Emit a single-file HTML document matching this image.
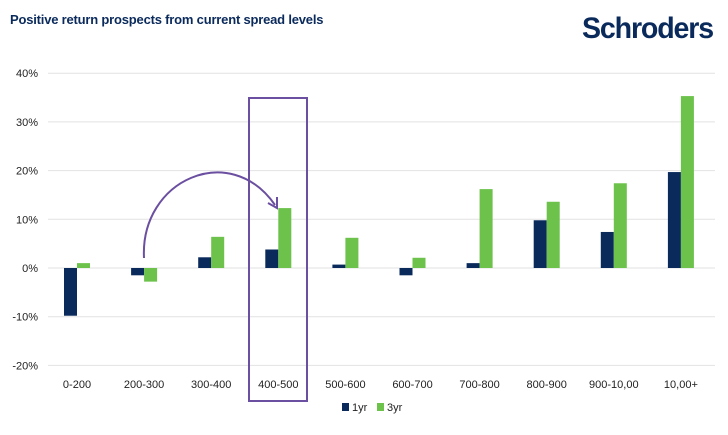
<!DOCTYPE html>
<html><head><meta charset="utf-8"><style>
body{margin:0;background:#fff;width:728px;height:430px;overflow:hidden;font-family:"Liberation Sans",sans-serif}
</style></head><body>
<svg width="728" height="430" id="svg" font-family="Liberation Sans, sans-serif">
<text x="10" y="24" font-size="13" font-weight="bold" fill="#0a2a5c" letter-spacing="-0.2">Positive return prospects from current spread levels</text>
<text x="582" y="38" font-size="30" font-weight="bold" fill="#0a2a5c" letter-spacing="-1.2" textLength="131" lengthAdjust="spacingAndGlyphs">Schroders</text>
<g id="grid"></g><g id="bars"></g>
<rect x="249" y="98" width="58" height="303" fill="none" stroke="#6b4fa0" stroke-width="2"/>
<path d="M144,258 C140,180 230,140 275,205" fill="none" stroke="#6b4fa0" stroke-width="2"/>
<path d="M268,203 L277,208 L277,197" fill="none" stroke="#6b4fa0" stroke-width="2"/>
<rect x="342" y="403" width="7" height="8" fill="#0a2a5c"/>
<text x="352" y="411" font-size="11" fill="#222">1yr</text>
<rect x="377" y="403" width="7" height="8" fill="#6cc24a"/>
<text x="387" y="411" font-size="11" fill="#222">3yr</text>
</svg>
<script>
const categories=["0-200","200-300","300-400","400-500","500-600","600-700","700-800","800-900","900-10,00","10,00+"];
const oneYr=[-9.8,-1.5,2.2,3.8,0.7,-1.5,1.0,9.8,7.4,19.7];
const threeYr=[1.0,-2.8,6.4,12.3,6.2,2.1,16.2,13.6,17.4,35.3];
const yTicks=[40,30,20,10,0,-10,-20];
const NS="http://www.w3.org/2000/svg";
function y(v){return 268-v*4.87;}
function xc(i){return 77+i*67.1;}
function mk(t,a,p){const e=document.createElementNS(NS,t);for(const k in a)e.setAttribute(k,a[k]);p.appendChild(e);return e;}
const g=document.getElementById('grid'),b=document.getElementById('bars');
yTicks.forEach(t=>{
  const l=mk('line',{x1:48,x2:715,y1:y(t),y2:y(t),stroke:'#e2e2e2','stroke-width':1},g);
  
  
  const tx=mk('text',{x:38,y:y(t)+4,'font-size':11,fill:'#222','text-anchor':'end'},g);
  tx.textContent=t+'%';
  
  
});
categories.forEach((c,i)=>{
  const cx=xc(i);
  [[oneYr[i],cx-13,'#0a2a5c','bar-1yr'],[threeYr[i],cx,'#6cc24a','bar-3yr']].forEach(([v,x,col,n])=>{
    const r=mk('rect',{x:x,y:Math.min(y(v),y(0)),width:13,height:Math.abs(y(v)-y(0)),fill:col},b);
    
    
  });
  const t=mk('text',{x:cx,y:388,'font-size':11,fill:'#222','text-anchor':'middle'},b);
  t.textContent=c;
  
  
});
</script>
</body></html>
